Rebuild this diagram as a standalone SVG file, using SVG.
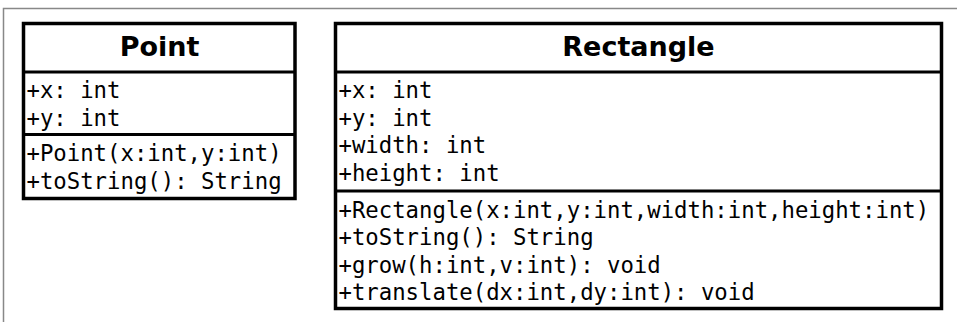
<svg xmlns="http://www.w3.org/2000/svg" width="957" height="322" viewBox="0 0 957 322">
<style>
.frame{fill:none;stroke:#888;stroke-width:1.5}
.box{fill:#fff;stroke:#000;stroke-width:3.5}
.sep{stroke:#000;stroke-width:3}
.title{font-family:"DejaVu Sans",sans-serif;font-weight:bold;font-size:27px;text-anchor:middle;fill:#000}
.mem{font-family:"DejaVu Sans Mono",monospace;font-size:22.3px;fill:#000}
</style>
<rect width="957" height="322" fill="#fff"/>
<path class="frame" d="M957,8.5 H3.5 V322"/>
<g id="Point">
<rect class="box" x="23.5" y="23.5" width="271.5" height="175"/>
<line class="sep" x1="23.5" y1="72" x2="295" y2="72"/>
<line class="sep" x1="23.5" y1="134.5" x2="295" y2="134.5"/>
<text class="title" x="159.5" y="56">Point</text>
<text class="mem" x="26.5" y="98">+x: int</text>
<text class="mem" x="26.5" y="125.6">+y: int</text>
<text class="mem" x="26.5" y="161">+Point(x:int,y:int)</text>
<text class="mem" x="26.5" y="188.6">+toString(): String</text>
</g>
<g id="Rectangle">
<rect class="box" x="335.5" y="23.5" width="606" height="285"/>
<line class="sep" x1="335.5" y1="72" x2="941.5" y2="72"/>
<line class="sep" x1="335.5" y1="191" x2="941.5" y2="191"/>
<text class="title" x="638.5" y="56">Rectangle</text>
<text class="mem" x="338.5" y="98">+x: int</text>
<text class="mem" x="338.5" y="125.6">+y: int</text>
<text class="mem" x="338.5" y="153.2">+width: int</text>
<text class="mem" x="338.5" y="180.8">+height: int</text>
<text class="mem" x="338.5" y="217.5">+Rectangle(x:int,y:int,width:int,height:int)</text>
<text class="mem" x="338.5" y="245.1">+toString(): String</text>
<text class="mem" x="338.5" y="272.7">+grow(h:int,v:int): void</text>
<text class="mem" x="338.5" y="300.3">+translate(dx:int,dy:int): void</text>
</g>
<g id="connectors"></g>
</svg>
